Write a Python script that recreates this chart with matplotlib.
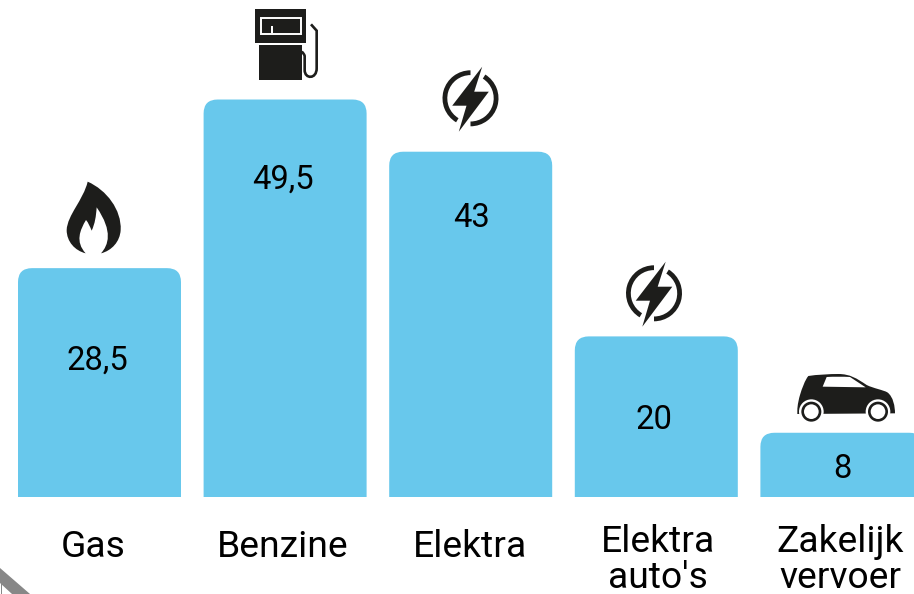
import matplotlib
matplotlib.use("Agg")
import matplotlib.pyplot as plt
from matplotlib.path import Path
from matplotlib.patches import PathPatch, Polygon, Wedge, Rectangle, Circle
from matplotlib.transforms import Affine2D, IdentityTransform

plt.rcParams['font.family'] = ['Roboto', 'DejaVu Sans']

# ---- data ----
categories = ["Gas", "Benzine", "Elektra", "Elektra\nauto's", "Zakelijk\nvervoer"]
values = [28.5, 49.5, 43, 20, 8]
value_labels = ["28,5", "49,5", "43", "20", "8"]

# ---- layout (pixels of the 914x594 canvas) ----
W, H = 914, 594
BAR_BLUE = "#68C8EC"
ICON = "#1D1D1B"
GREY = "#878787"
PX_PER_CAT = 185.6
PX_PER_UNIT = 8.03
X0_PX, BASE_PX = 99.5, 497
BAR_W = 163 / PX_PER_CAT
RADIUS_PX = 14
value_anchor = [(97, 369.5), (282.5, 189), (471, 227), (654, 429), (842, 478)]
cat_anchor = [(93.5, [557]), (283, [557]), (470.5, [557]), (658, [551.7, 587.5]), (840, [551.7, 587.5])]

fig = plt.figure(figsize=(W / 100, H / 100), dpi=100)
ax = fig.add_axes([0, 0, 1, 1])
ax.set_xlim(-X0_PX / PX_PER_CAT, (W - X0_PX) / PX_PER_CAT)
ax.set_ylim(-(H - BASE_PX) / PX_PER_UNIT, BASE_PX / PX_PER_UNIT)
ax.axis("off")


def px(ox=0, oy=0, s=1.0):
    """source coords (image y-down, optionally a 3x zoom frame) -> display"""
    return Affine2D().scale(s).translate(ox, oy).scale(1, -1).translate(0, H)


# ---- bars with rounded top corners ----
rx, ry = RADIUS_PX / PX_PER_CAT, RADIUS_PX / PX_PER_UNIT
for i, v in enumerate(values):
    l, r = i - BAR_W / 2, i + BAR_W / 2
    verts = [(l, 0), (l, v - ry), (l, v), (l + rx, v), (r - rx, v), (r, v), (r, v - ry), (r, 0), (l, 0)]
    codes = [Path.MOVETO, Path.LINETO, Path.CURVE3, Path.CURVE3, Path.LINETO,
             Path.CURVE3, Path.CURVE3, Path.LINETO, Path.CLOSEPOLY]
    ax.add_patch(PathPatch(Path(verts, codes), fc=BAR_BLUE, ec="none"))

# ---- texts ----
for lab, (x, y) in zip(value_labels, value_anchor):
    ax.text(x, H - y, lab, transform=IdentityTransform(), ha="center", va="baseline",
            fontsize=23.6, color="#000000")
for cat, (x, ys) in zip(categories, cat_anchor):
    for line, y in zip(cat.split("\n"), ys):
        ax.text(x, H - y, line, transform=IdentityTransform(), ha="center", va="baseline",
                fontsize=26.8, color="#000000")

# ---- flame ----
M, L, C = Path.MOVETO, Path.LINETO, Path.CURVE4
flame_v = [(263, 545),
           (320, 570), (365, 630), (362, 690),
           (360, 725), (335, 752), (303, 760),
           (325, 735), (340, 695), (290, 622),
           (288, 650), (285, 670), (275, 692),
           (270, 680), (265, 668), (258, 660),
           (240, 690), (225, 725), (257, 760),
           (225, 752), (200, 725), (200, 690),
           (202, 645), (250, 600), (263, 545),
           (263, 545)]
flame_c = [M] + [C] * 24 + [Path.CLOSEPOLY]
ax.add_patch(PathPatch(Path(flame_v, flame_c), fc=ICON, ec="none", transform=px(0, 0, 1 / 3)))

# ---- pump (3x zoom frame of the full image) ----
t = px(0, 0, 1 / 3)
ax.add_patch(Rectangle((765, 28), 154, 100, fc=ICON, ec="none", transform=t))
ax.add_patch(Rectangle((783, 54), 120, 48, fc="none", ec="white", lw=1.4, transform=t))
ax.add_patch(Rectangle((814, 78), 6, 22, fc="white", ec="none", transform=t))
ax.add_patch(Rectangle((778, 135), 127, 105, fc=ICON, ec="none", transform=t))
hose_v = [(905, 155), (912, 160), (914, 168), (914, 180), (914, 210),
          (914, 238), (950, 238), (950, 205), (950, 92), (933, 73)]
hose_c = [M, Path.CURVE3, Path.CURVE3, L, L, C, C, C, L, L]
ax.add_patch(PathPatch(Path(hose_v, hose_c), fc="none", ec=ICON, lw=1.9, transform=t))

# ---- bolts ----
bolt = [(11.7, -31.6), (-18.3, 7.4), (-4, 7.4), (-11.7, 33.4), (18.3, -6.6), (3.7, -6.6)]
for cx, cy in [(470.5, 98.3), (654, 293.3)]:
    ax.add_patch(Polygon(bolt, closed=True, fc=ICON, ec="none", transform=px(cx, cy)))
    for t1, t2 in [(90, 239), (-90, 58)]:
        ax.add_patch(Wedge((cx, H - cy), 28, t1, t2, width=4.8, fc=ICON, ec="none",
                           transform=IdentityTransform()))

# ---- car (3x zoom frame at 600,250) ----
t = px(600, 250, 1 / 3)
car_v = [(592, 482),
         (592, 465), (597, 445), (600, 435),
         (606, 415), (615, 390), (625, 378),
         (650, 374), (690, 372), (715, 372),
         (750, 372), (770, 385), (800, 405),
         (820, 415), (850, 420), (862, 427),
         (880, 440), (885, 470), (885, 490),
         (592, 492), (592, 482)]
car_c = [M] + [C] * 18 + [L, Path.CLOSEPOLY]
ax.add_patch(PathPatch(Path(car_v, car_c), fc=ICON, ec="none", lw=0, transform=t))
win_v = [(668, 410), (680, 381), (715, 379), (750, 381), (797, 412), (668, 410)]
win_c = [M, L, Path.CURVE3, Path.CURVE3, L, Path.CLOSEPOLY]
ax.add_patch(PathPatch(Path(win_v, win_c), fc="white", ec="none", transform=t))
for wx in (634, 834):
    ax.add_patch(Circle((wx, 485), 37, fc="white", ec="none", transform=t))
    ax.add_patch(Circle((wx, 485), 30, fc=ICON, ec="none", transform=t))
    ax.add_patch(Circle((wx, 485), 22, fc="white", ec="none", transform=t))

# ---- grey corner stripe ----
ax.add_patch(Polygon([(0, 568), (30, 594), (12, 594), (0, 583)], closed=True,
                     fc=GREY, ec="none", transform=px()))
ax.add_patch(Rectangle((1.3, 583), 1, 11, fc=GREY, ec="none", transform=px()))

fig.savefig("out.png", dpi=100, facecolor="white")
